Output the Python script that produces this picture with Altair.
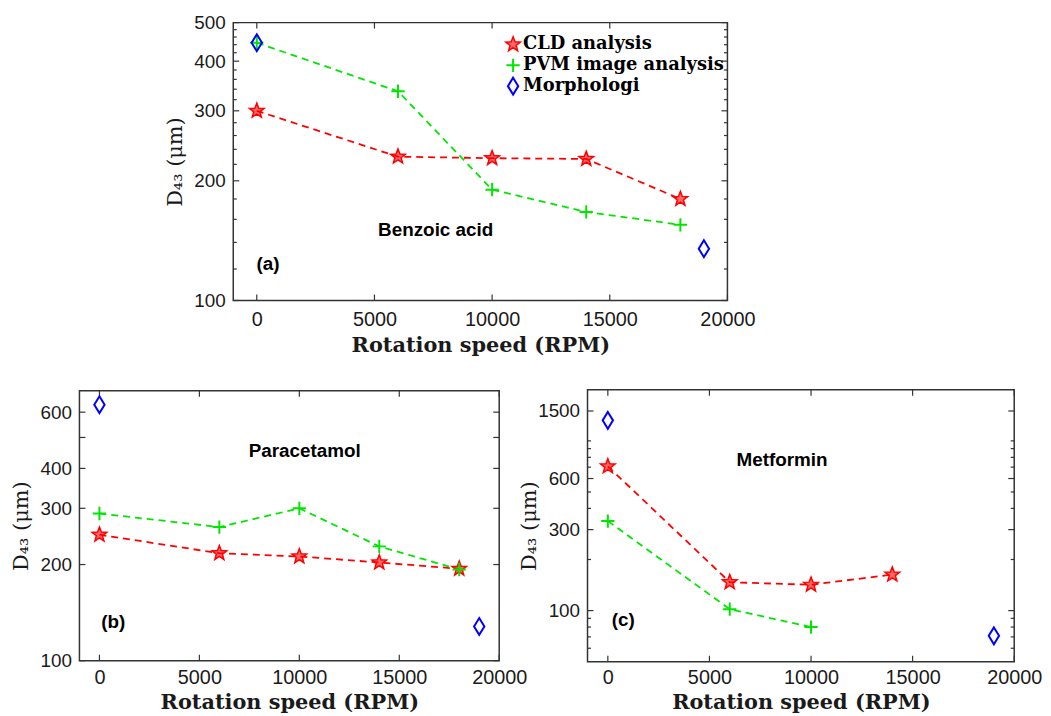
import math
import altair as alt
import pandas as pd

# ---------------- data ----------------
SERIES = ["CLD analysis", "PVM image analysis", "Morphologi"]

rpm = [0, 6000, 10000, 14000, 18000]
morph_rpm = [0, 19000]

# (a) Benzoic acid
a_cld = [300, 230, 228, 227, 180]
a_pvm = [445, 336, 190, 167, 155]
a_morph = [445, 135]

# (b) Paracetamol
b_cld = [248, 217, 212, 203, 194]
b_pvm = [289, 262, 300, 228, 193]
b_morph = [633, 128]

# (c) Metformin
c_rpm_cld = [0, 6000, 10000, 14000]
c_cld = [708, 147, 142, 163]
c_rpm_pvm = [0, 6000, 10000]
c_pvm = [337, 102, 80]
c_morph = [1321, 71]

x_ticks = [0, 5000, 10000, 15000, 20000]
a_ylabels = [100, 200, 300, 400, 500]
a_yminor = [120, 140, 160, 180, 220, 240, 260, 280, 320, 340, 360, 380, 420, 440, 460, 480]
b_ylabels = [100, 200, 300, 400, 600]
b_ymajor = [100, 200, 300, 400, 500, 600]
b_yminor = []
c_ylabels = [100, 300, 600, 1500]
c_yminor = [60, 70, 80, 90, 200, 400, 500, 700, 800, 900, 1000]

names = ["Benzoic acid", "Paracetamol", "Metformin"]
tags = ["(a)", "(b)", "(c)"]

# ---------------- styles ----------------
FRAME = "#333333"
TXT = "#1a1a1a"
RED, GREEN, BLUE = "#ff0000", "#00e600", "#0000ff"
W, H = 1043, 708

_star = []
for k in range(10):
    ang = math.radians(-90 + 36 * k)
    r = 1.0 if k % 2 == 0 else 0.42
    _star.append(f"{r * math.cos(ang):.3f},{r * math.sin(ang):.3f}")
STAR = "M" + "L".join(_star) + "Z"
PLUS = "M-1,0L1,0M0,-1L0,1"
DIAMOND = "M0,-1.3L0.8,0L0,1.3L-0.8,0Z"

MARKS = {
    SERIES[0]: dict(shape=STAR, filled=True, color=RED, fillOpacity=0.6, stroke=RED,
                    strokeWidth=1.5, size=240, opacity=1),
    SERIES[1]: dict(shape=PLUS, filled=False, color=GREEN, strokeWidth=2, size=180, opacity=1),
    SERIES[2]: dict(shape=DIAMOND, filled=False, color=BLUE, strokeWidth=2, size=170, opacity=1),
}


def panel_layers(xs_cld, cld, xs_pvm, pvm, morph, xr, yr, ydom, ylabels, ymajor, yminor,
                 name, tag, name_xy, tag_xy, lp, tp):
    x0, x1 = xr
    ytop, ybot = yr
    xscale = alt.Scale(domain=[-1000, 20000], range=[x0, x1], nice=False, zero=False)
    yscale = alt.Scale(type="log", domain=ydom, range=[ybot, ytop], nice=False)
    x_axis = alt.Axis(values=x_ticks, format="d", title="Rotation speed (RPM)",
                      orient="bottom", offset=ybot - H, labelFlush=False,
                      ticks=False, domain=False, grid=False,
                      labelFont="Liberation Sans", labelFontSize=20, labelColor=TXT,
                      labelPadding=lp,
                      titleFont="DejaVu Serif", titleFontWeight="bold",
                      titleFontSize=21, titleColor=TXT, titlePadding=tp)
    y_axis = alt.Axis(values=ylabels, format="d", title="D₄₃ (μm)",
                      orient="left", offset=-x0, labelFlush=False,
                      ticks=False, domain=False, grid=False,
                      labelFont="Liberation Sans", labelFontSize=19, labelColor=TXT,
                      labelPadding=8, minExtent=40, maxExtent=40,
                      titleFont="DejaVu Serif", titleFontWeight="normal",
                      titleFontSize=21, titleColor=TXT, titlePadding=8)
    xn = alt.X("rpm:Q", scale=xscale, axis=None)
    yn = alt.Y("d43:Q", scale=yscale, axis=None)

    df_cld = pd.DataFrame({"rpm": xs_cld, "d43": cld})
    df_pvm = pd.DataFrame({"rpm": xs_pvm, "d43": pvm})
    df_mor = pd.DataFrame({"rpm": morph_rpm, "d43": morph})

    out = []
    one = pd.DataFrame({"t": [name]})
    out.append(alt.Chart(one).mark_rect(fillOpacity=0, stroke=FRAME, strokeWidth=1.5).encode(
        x=alt.value(x0), x2=alt.value(x1), y=alt.value(ytop), y2=alt.value(ybot)))

    # inner tick marks (MATLAB style)
    tl, tlm = 6, 3.5
    ymaj_df = pd.DataFrame({"d43": ymajor})
    out.append(alt.Chart(ymaj_df).mark_rule(color=FRAME, strokeWidth=1.2).encode(
        y=yn, x=alt.value(x0), x2=alt.value(x0 + tl)))
    out.append(alt.Chart(ymaj_df).mark_rule(color=FRAME, strokeWidth=1.2).encode(
        y=yn, x=alt.value(x1 - tl), x2=alt.value(x1)))
    if yminor:
        ymin_df = pd.DataFrame({"d43": yminor})
        out.append(alt.Chart(ymin_df).mark_rule(color=FRAME, strokeWidth=1.2).encode(
            y=yn, x=alt.value(x0), x2=alt.value(x0 + tlm)))
        out.append(alt.Chart(ymin_df).mark_rule(color=FRAME, strokeWidth=1.2).encode(
            y=yn, x=alt.value(x1 - tlm), x2=alt.value(x1)))
    x_df = pd.DataFrame({"rpm": x_ticks})
    out.append(alt.Chart(x_df).mark_rule(color=FRAME, strokeWidth=1.2).encode(
        x=xn, y=alt.value(ybot - tl), y2=alt.value(ybot)))
    out.append(alt.Chart(x_df).mark_rule(color=FRAME, strokeWidth=1.2).encode(
        x=xn, y=alt.value(ytop), y2=alt.value(ytop + tl)))

    # dashed lines
    out.append(alt.Chart(df_cld).mark_line(color=RED, strokeDash=[7, 5], strokeWidth=1.8).encode(
        x=xn, y=yn))
    out.append(alt.Chart(df_pvm).mark_line(color=GREEN, strokeDash=[7, 5], strokeWidth=1.8).encode(
        x=xn, y=yn))
    # markers (the CLD layer carries the axes)
    out.append(alt.Chart(df_cld).mark_point(**MARKS[SERIES[0]]).encode(
        x=alt.X("rpm:Q", scale=xscale, axis=x_axis),
        y=alt.Y("d43:Q", scale=yscale, axis=y_axis)))
    out.append(alt.Chart(df_pvm).mark_point(**MARKS[SERIES[1]]).encode(x=xn, y=yn))
    out.append(alt.Chart(df_mor).mark_point(**MARKS[SERIES[2]]).encode(x=xn, y=yn))

    out.append(alt.Chart(one).mark_text(
        font="Liberation Sans", fontWeight="bold", fontSize=19, color="black"
    ).encode(text="t:N", x=alt.value(name_xy[0]), y=alt.value(name_xy[1])))
    out.append(alt.Chart(pd.DataFrame({"t": [tag]})).mark_text(
        font="Liberation Sans", fontWeight="bold", fontSize=19, color="black"
    ).encode(text="t:N", x=alt.value(tag_xy[0]), y=alt.value(tag_xy[1])))
    return out


layers = []
layers += panel_layers(rpm, a_cld, rpm, a_pvm, a_morph, (227, 725), (12, 292),
                       [100, 500], a_ylabels, a_ylabels, a_yminor,
                       names[0], tags[0], (431, 221), (262, 255), 9, 5)
layers += panel_layers(rpm, b_cld, rpm, b_pvm, b_morph, (72, 495), (383, 655),
                       [100, 700], b_ylabels, b_ymajor, b_yminor,
                       names[1], tags[1], (299, 444), (106, 616), 7, 4)
layers += panel_layers(c_rpm_cld, c_cld, c_rpm_pvm, c_pvm, c_morph, (584, 1014), (382, 656),
                       [50, 2000], c_ylabels, c_ylabels, c_yminor,
                       names[2], tags[2], (780, 453), (620, 614), 6, 4)

# legend of panel (a), drawn in the plot's top-right corner
leg_sym_x, leg_txt_x, leg_rows = 509, 519, [34, 55, 76]
for s, yy in zip(SERIES, leg_rows):
    lab = pd.DataFrame({"t": [s]})
    layers.append(alt.Chart(lab).mark_point(**MARKS[s]).encode(
        x=alt.value(leg_sym_x), y=alt.value(yy)))
    layers.append(alt.Chart(lab).mark_text(
        align="left", baseline="middle", font="DejaVu Serif", fontWeight="bold",
        fontSize=18, color="black"
    ).encode(text="t:N", x=alt.value(leg_txt_x), y=alt.value(yy)))

chart = alt.layer(*layers).resolve_scale(
    x="independent", y="independent"
).resolve_axis(
    x="independent", y="independent"
).properties(
    width=W, height=H, padding=0,
    autosize=alt.AutoSizeParams(type="none")
).configure_view(strokeWidth=0)

chart.save("out.html", embed_options={"renderer": "svg", "actions": False})
